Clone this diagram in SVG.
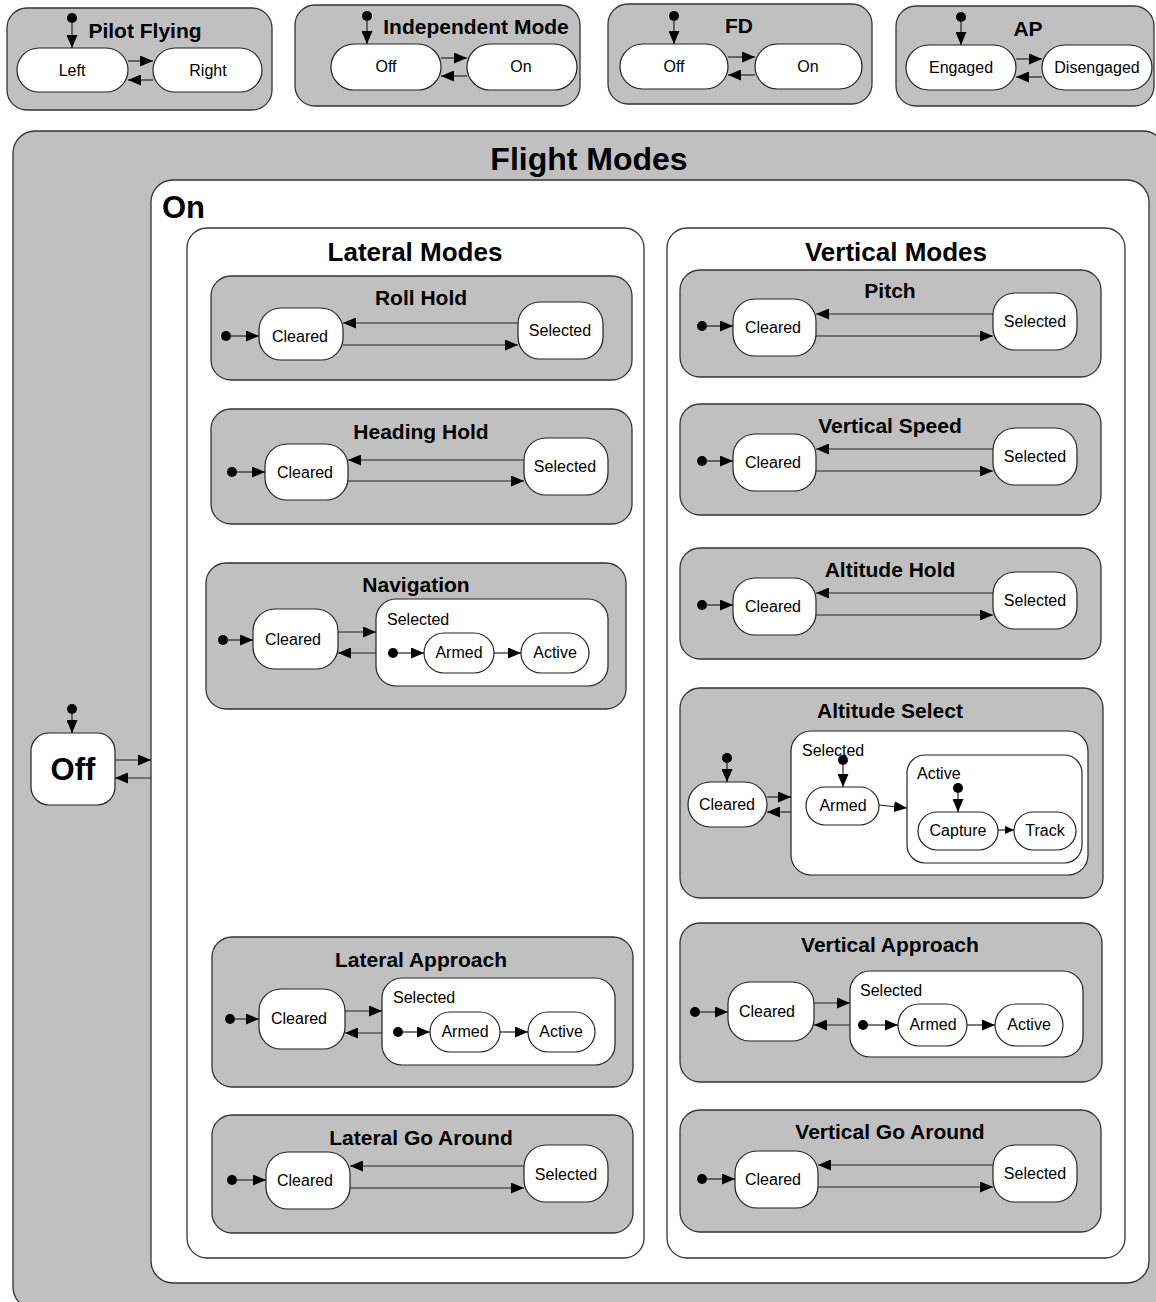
<svg xmlns="http://www.w3.org/2000/svg" width="1156" height="1302" viewBox="0 0 1156 1302">
<style>
.comp{fill:#c0c0c0;stroke:#333;stroke-width:1.3}
.wbox{fill:#fff;stroke:#333;stroke-width:1.3}
.st{fill:#fff;stroke:#222;stroke-width:1.2}
.t{font-family:"Liberation Sans",Arial,sans-serif;font-size:16px;fill:#000}
.tm{font-family:"Liberation Sans",Arial,sans-serif;font-size:16px;fill:#000;text-anchor:middle}
.h{font-family:"Liberation Sans",Arial,sans-serif;font-size:21px;font-weight:bold;fill:#000;text-anchor:middle}
.hb{font-family:"Liberation Sans",Arial,sans-serif;font-size:26px;font-weight:bold;fill:#000;text-anchor:middle}
.c{stroke:#222;stroke-width:1.2;fill:none;marker-end:url(#arr)}
.cs{stroke:#222;stroke-width:1.2;fill:none;marker-end:url(#arrs)}
.dot{fill:#000}
</style>
<defs>
<marker id="arr" markerUnits="userSpaceOnUse" markerWidth="13" markerHeight="11" refX="13" refY="5.5" orient="auto"><path d="M0,0 L13,5.5 L0,11 z" fill="#000"/></marker>
<marker id="arrs" markerUnits="userSpaceOnUse" markerWidth="9" markerHeight="8" refX="9" refY="4" orient="auto"><path d="M0,0 L9,4 L0,8 z" fill="#000"/></marker>
</defs>
<rect width="1156" height="1302" fill="#fff"/>

<!-- Top row -->
<g id="pilot-flying">
<rect class="comp" x="7" y="8" width="265" height="102" rx="20"/>
<text class="h" x="145" y="38">Pilot Flying</text>
<g id="pf-left"><rect class="st" x="17" y="48" width="111" height="44" rx="22"/><text class="tm" x="72" y="76">Left</text></g>
<g id="pf-right"><rect class="st" x="153" y="48" width="109" height="44" rx="22"/><text class="tm" x="208" y="76">Right</text></g>
</g>
<g id="independent-mode">
<rect class="comp" x="295" y="5" width="285" height="101" rx="20"/>
<text class="h" x="476" y="34">Independent Mode</text>
<g id="im-off"><rect class="st" x="331" y="44" width="110" height="46" rx="23"/><text class="tm" x="386" y="72">Off</text></g>
<g id="im-on"><rect class="st" x="467" y="44" width="110" height="46" rx="23"/><text class="tm" x="521" y="72">On</text></g>
</g>
<g id="fd">
<rect class="comp" x="608" y="4" width="264" height="100" rx="20"/>
<text class="h" x="739" y="33">FD</text>
<g id="fd-off"><rect class="st" x="620" y="44" width="108" height="45" rx="22.5"/><text class="tm" x="674" y="72">Off</text></g>
<g id="fd-on"><rect class="st" x="755" y="44" width="107" height="45" rx="22.5"/><text class="tm" x="808" y="72">On</text></g>
</g>
<g id="ap">
<rect class="comp" x="896" y="6" width="258" height="100" rx="20"/>
<text class="h" x="1028" y="36">AP</text>
<g id="ap-engaged"><rect class="st" x="906" y="45" width="110" height="45" rx="22.5"/><text class="tm" x="961" y="73">Engaged</text></g>
<g id="ap-disengaged"><rect class="st" x="1042" y="45" width="110" height="45" rx="22.5"/><text class="tm" x="1097" y="73">Disengaged</text></g>
</g>

<!-- Flight Modes -->
<g id="flight-modes">
<rect class="comp" x="13" y="131" width="1152" height="1178" rx="22"/>
<text class="hb" x="589" y="170" style="font-size:32px">Flight Modes</text>
</g>
<g id="off">
<rect class="st" x="31" y="733" width="84" height="72" rx="18"/>
<text class="hb" x="73" y="780" style="font-size:31px">Off</text>
</g>
<g id="on">
<rect class="wbox" x="151" y="180" width="998" height="1103" rx="22"/>
<text x="162" y="218" style="font-family:'Liberation Sans',Arial,sans-serif;font-size:31px;font-weight:bold">On</text>
</g>
<g id="lateral-modes">
<rect class="wbox" x="187" y="228" width="457" height="1030" rx="20"/>
<text class="hb" x="415" y="261">Lateral Modes</text>
</g>
<g id="vertical-modes">
<rect class="wbox" x="667" y="228" width="458" height="1030" rx="20"/>
<text class="hb" x="896" y="261">Vertical Modes</text>
</g>

<!-- Lateral -->
<g id="roll-hold">
<rect class="comp" x="211" y="276" width="421" height="104" rx="20"/>
<text class="h" x="421" y="305">Roll Hold</text>
<g id="rh-cleared"><rect class="st" x="259" y="308" width="84" height="52" rx="22"/><text class="tm" x="300" y="342">Cleared</text></g>
<g id="rh-selected"><rect class="st" x="518" y="302" width="85" height="57" rx="22"/><text class="tm" x="560" y="336">Selected</text></g>
</g>
<g id="heading-hold">
<rect class="comp" x="211" y="409" width="421" height="115" rx="20"/>
<text class="h" x="421" y="439">Heading Hold</text>
<g id="hh-cleared"><rect class="st" x="265" y="444" width="83" height="56" rx="22"/><text class="tm" x="305" y="478">Cleared</text></g>
<g id="hh-selected"><rect class="st" x="524" y="438" width="84" height="57" rx="22"/><text class="tm" x="565" y="472">Selected</text></g>
</g>
<g id="navigation">
<rect class="comp" x="206" y="563" width="420" height="146" rx="20"/>
<text class="h" x="416" y="592">Navigation</text>
<g id="nav-cleared"><rect class="st" x="253" y="609" width="85" height="60" rx="22"/><text class="tm" x="293" y="645">Cleared</text></g>
<g id="nav-selected"><rect class="st" x="376" y="599" width="232" height="87" rx="20"/><text class="t" x="387" y="625">Selected</text></g>
<g id="nav-armed"><rect class="st" x="424" y="633" width="70" height="40" rx="20"/><text class="tm" x="459" y="658">Armed</text></g>
<g id="nav-active"><rect class="st" x="521" y="633" width="68" height="40" rx="20"/><text class="tm" x="555" y="658">Active</text></g>
</g>
<g id="lateral-approach">
<rect class="comp" x="212" y="937" width="421" height="150" rx="20"/>
<text class="h" x="421" y="967">Lateral Approach</text>
<g id="la-cleared"><rect class="st" x="259" y="989" width="86" height="60" rx="22"/><text class="tm" x="299" y="1024">Cleared</text></g>
<g id="la-selected"><rect class="st" x="382" y="978" width="233" height="87" rx="20"/><text class="t" x="393" y="1003">Selected</text></g>
<g id="la-armed"><rect class="st" x="430" y="1012" width="70" height="40" rx="20"/><text class="tm" x="465" y="1037">Armed</text></g>
<g id="la-active"><rect class="st" x="528" y="1012" width="67" height="40" rx="20"/><text class="tm" x="561" y="1037">Active</text></g>
</g>
<g id="lateral-go-around">
<rect class="comp" x="212" y="1115" width="421" height="118" rx="20"/>
<text class="h" x="421" y="1145">Lateral Go Around</text>
<g id="lga-cleared"><rect class="st" x="266" y="1152" width="84" height="57" rx="22"/><text class="tm" x="305" y="1186">Cleared</text></g>
<g id="lga-selected"><rect class="st" x="524" y="1145" width="84" height="57" rx="22"/><text class="tm" x="566" y="1180">Selected</text></g>
</g>

<!-- Vertical -->
<g id="pitch">
<rect class="comp" x="680" y="270" width="421" height="107" rx="20"/>
<text class="h" x="890" y="298">Pitch</text>
<g id="p-cleared"><rect class="st" x="733" y="299" width="83" height="57" rx="22"/><text class="tm" x="773" y="333">Cleared</text></g>
<g id="p-selected"><rect class="st" x="993" y="293" width="84" height="57" rx="22"/><text class="tm" x="1035" y="327">Selected</text></g>
</g>
<g id="vertical-speed">
<rect class="comp" x="680" y="404" width="421" height="111" rx="20"/>
<text class="h" x="890" y="433">Vertical Speed</text>
<g id="vs-cleared"><rect class="st" x="733" y="434" width="83" height="57" rx="22"/><text class="tm" x="773" y="468">Cleared</text></g>
<g id="vs-selected"><rect class="st" x="993" y="428" width="84" height="57" rx="22"/><text class="tm" x="1035" y="462">Selected</text></g>
</g>
<g id="altitude-hold">
<rect class="comp" x="680" y="548" width="421" height="111" rx="20"/>
<text class="h" x="890" y="577">Altitude Hold</text>
<g id="ah-cleared"><rect class="st" x="733" y="578" width="83" height="57" rx="22"/><text class="tm" x="773" y="612">Cleared</text></g>
<g id="ah-selected"><rect class="st" x="993" y="572" width="84" height="57" rx="22"/><text class="tm" x="1035" y="606">Selected</text></g>
</g>
<g id="altitude-select">
<rect class="comp" x="680" y="688" width="423" height="210" rx="20"/>
<text class="h" x="890" y="718">Altitude Select</text>
<g id="as-cleared"><rect class="st" x="688" y="782" width="79" height="45" rx="22.5"/><text class="tm" x="727" y="810">Cleared</text></g>
<g id="as-selected"><rect class="st" x="791" y="731" width="297" height="144" rx="20"/><text class="t" x="802" y="756">Selected</text></g>
<g id="as-armed"><rect class="st" x="806" y="787" width="73" height="38" rx="19"/><text class="tm" x="843" y="811">Armed</text></g>
<g id="as-active"><rect class="st" x="907" y="755" width="175" height="108" rx="18"/><text class="t" x="917" y="779">Active</text></g>
<g id="as-capture"><rect class="st" x="918" y="812" width="80" height="38" rx="19"/><text class="tm" x="958" y="836">Capture</text></g>
<g id="as-track"><rect class="st" x="1014" y="812" width="62" height="38" rx="19"/><text class="tm" x="1045" y="836">Track</text></g>
</g>
<g id="vertical-approach">
<rect class="comp" x="680" y="923" width="422" height="159" rx="20"/>
<text class="h" x="890" y="952">Vertical Approach</text>
<g id="va-cleared"><rect class="st" x="728" y="982" width="86" height="59" rx="22"/><text class="tm" x="767" y="1017">Cleared</text></g>
<g id="va-selected"><rect class="st" x="850" y="971" width="233" height="86" rx="20"/><text class="t" x="860" y="996">Selected</text></g>
<g id="va-armed"><rect class="st" x="898" y="1004" width="69" height="42" rx="21"/><text class="tm" x="933" y="1030">Armed</text></g>
<g id="va-active"><rect class="st" x="995" y="1004" width="68" height="42" rx="21"/><text class="tm" x="1029" y="1030">Active</text></g>
</g>
<g id="vertical-go-around">
<rect class="comp" x="680" y="1110" width="421" height="122" rx="20"/>
<text class="h" x="890" y="1139">Vertical Go Around</text>
<g id="vga-cleared"><rect class="st" x="735" y="1151" width="83" height="57" rx="22"/><text class="tm" x="773" y="1185">Cleared</text></g>
<g id="vga-selected"><rect class="st" x="993" y="1145" width="84" height="57" rx="22"/><text class="tm" x="1035" y="1179">Selected</text></g>
</g>

<!-- Connectors -->
<g id="connectors">
<circle class="dot" cx="72" cy="18" r="5"/><path class="c" d="M72,22 V48"/>
<path class="c" d="M128,61 H153"/><path class="c" d="M153,80 H128"/>
<circle class="dot" cx="367" cy="16" r="5"/><path class="c" d="M367,20 V44"/>
<path class="c" d="M441,58 H467"/><path class="c" d="M467,76 H441"/>
<circle class="dot" cx="674" cy="16" r="5"/><path class="c" d="M674,20 V44"/>
<path class="c" d="M728,57 H755"/><path class="c" d="M755,75 H728"/>
<circle class="dot" cx="961" cy="17" r="5"/><path class="c" d="M961,21 V45"/>
<path class="c" d="M1016,59 H1042"/><path class="c" d="M1042,77 H1016"/>

<circle class="dot" cx="72" cy="709" r="5"/><path class="c" d="M72,713 V733"/>
<path class="c" d="M115,760 H151"/><path class="c" d="M151,778 H115"/>

<circle class="dot" cx="226" cy="336" r="5"/><path class="c" d="M230,336 H259"/>
<path class="c" d="M518,323 H343"/><path class="c" d="M343,345 H518"/>

<circle class="dot" cx="232" cy="472" r="5"/><path class="c" d="M236,472 H265"/>
<path class="c" d="M524,460 H348"/><path class="c" d="M348,481 H524"/>

<circle class="dot" cx="223" cy="640" r="5"/><path class="c" d="M227,640 H253"/>
<path class="c" d="M338,632 H376"/><path class="c" d="M376,653 H338"/>
<circle class="dot" cx="393" cy="653" r="5"/><path class="c" d="M397,653 H424"/>
<path class="c" d="M494,653 H521"/>

<circle class="dot" cx="230" cy="1019" r="5"/><path class="c" d="M234,1019 H259"/>
<path class="c" d="M345,1011 H382"/><path class="c" d="M382,1033 H345"/>
<circle class="dot" cx="398" cy="1032" r="5"/><path class="c" d="M402,1032 H430"/>
<path class="c" d="M500,1032 H528"/>

<circle class="dot" cx="232" cy="1180" r="5"/><path class="c" d="M236,1180 H266"/>
<path class="c" d="M524,1166 H350"/><path class="c" d="M350,1188 H524"/>

<circle class="dot" cx="702" cy="326" r="5"/><path class="c" d="M706,326 H733"/>
<path class="c" d="M993,314 H816"/><path class="c" d="M816,336 H993"/>

<circle class="dot" cx="702" cy="461" r="5"/><path class="c" d="M706,461 H733"/>
<path class="c" d="M993,449 H816"/><path class="c" d="M816,471 H993"/>

<circle class="dot" cx="702" cy="605" r="5"/><path class="c" d="M706,605 H733"/>
<path class="c" d="M993,593 H816"/><path class="c" d="M816,615 H993"/>

<circle class="dot" cx="727" cy="758" r="5"/><path class="c" d="M727,762 V782"/>
<path class="c" d="M767,797 H791"/><path class="c" d="M791,812 H767"/>
<circle class="dot" cx="843" cy="760" r="5"/><path class="c" d="M843,764 V787"/>
<path class="c" d="M879,805 L907,808"/>
<circle class="dot" cx="958" cy="788" r="5"/><path class="c" d="M958,792 V812"/>
<path class="cs" d="M998,830 H1014"/>

<circle class="dot" cx="695" cy="1012" r="5"/><path class="c" d="M699,1012 H728"/>
<path class="c" d="M814,1003 H850"/><path class="c" d="M850,1025 H814"/>
<circle class="dot" cx="863" cy="1025" r="5"/><path class="c" d="M867,1025 H898"/>
<path class="c" d="M967,1025 H995"/>

<circle class="dot" cx="702" cy="1179" r="5"/><path class="c" d="M706,1179 H735"/>
<path class="c" d="M993,1165 H818"/><path class="c" d="M818,1187 H993"/>
</g>
</svg>
